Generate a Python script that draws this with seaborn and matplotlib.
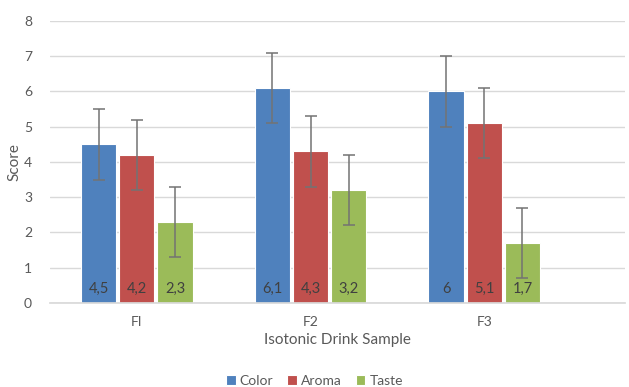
import matplotlib
matplotlib.use("Agg")
import matplotlib.pyplot as plt
import seaborn as sns
import pandas as pd
import numpy as np

samples = ["FI", "F2", "F3"]
series = ["Color", "Aroma", "Taste"]
color_vals = [4.5, 6.1, 6.0]
aroma_vals = [4.2, 4.3, 5.1]
taste_vals = [2.3, 3.2, 1.7]
color_err = [1, 1, 1]
aroma_err = [1, 1, 1]
taste_err = [1, 1, 1]
value_labels = {"Color": ["4,5", "6,1", "6"], "Aroma": ["4,2", "4,3", "5,1"], "Taste": ["2,3", "3,2", "1,7"]}
yticks = [0, 1, 2, 3, 4, 5, 6, 7, 8]

sns.set_theme(style="white")
plt.rcParams["font.family"] = ["Lato", "DejaVu Sans"]

vals = {"Color": color_vals, "Aroma": aroma_vals, "Taste": taste_vals}
errs = {"Color": color_err, "Aroma": aroma_err, "Taste": taste_err}
rows = []
for s in series:
    for i, c in enumerate(samples):
        rows.append({"Sample": c, "Series": s, "Score": vals[s][i], "Err": errs[s][i]})
df = pd.DataFrame(rows)

palette = {"Color": "#4F81BD", "Aroma": "#C0504D", "Taste": "#9BBB59"}

fig = plt.figure(figsize=(6.29, 3.87), dpi=100)
ax = fig.add_axes([0.0795, 0.217, 0.914, 0.729])

sns.barplot(data=df, x="Sample", y="Score", hue="Series", order=samples, hue_order=series,
            palette=palette, width=0.66, gap=0.08, errorbar=None, ax=ax,
            edgecolor="white", linewidth=0.8, saturation=1)

for container, s in zip(ax.containers, series):
    for bar, v, e, lab in zip(container, vals[s], errs[s], value_labels[s]):
        cx = bar.get_x() + bar.get_width() / 2
        ax.errorbar(cx, v, yerr=e, fmt="none", ecolor="#737373", elinewidth=1.1,
                    capsize=4, capthick=1.1, zorder=5)
        ax.text(cx, 0.2, lab, ha="center", va="bottom", fontsize=10.5, color="#404040", zorder=6)

ax.set_ylim(0, 8)
ax.set_xlim(-0.5, 2.81)
ax.set_yticks(yticks)
ax.yaxis.grid(True, color="#d9d9d9", linewidth=1)
ax.set_axisbelow(True)
for sp in ["left", "right", "top"]:
    ax.spines[sp].set_visible(False)
ax.spines["bottom"].set_color("#d9d9d9")
ax.tick_params(axis="both", length=0, colors="#595959", labelsize=10)
ax.tick_params(axis="x", pad=9)
ax.tick_params(axis="y", pad=13)
ax.set_xlabel("Isotonic Drink Sample", fontsize=11, color="#595959", labelpad=4)
ax.set_ylabel("Score", fontsize=11, color="#595959", labelpad=2)

handles, labels = ax.get_legend_handles_labels()
ax.legend_.remove()
fig.legend(handles, labels, loc="center", bbox_to_anchor=(0.5, 0.015), ncol=3, frameon=False,
           fontsize=10, handlelength=0.7, handleheight=0.7, handletextpad=0.3, columnspacing=1.0,
           labelcolor="#595959")

fig.savefig("out.png", dpi=100)
